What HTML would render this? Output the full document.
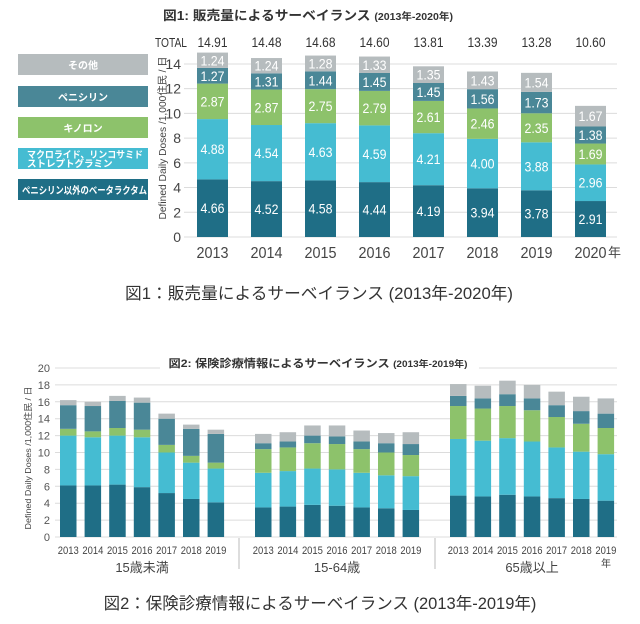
<!DOCTYPE html>
<html><head><meta charset="utf-8">
<style>
html,body{margin:0;padding:0;background:#fff;}
body{width:640px;height:619px;overflow:hidden;font-family:"Liberation Sans","Noto Sans CJK JP",sans-serif;}
svg text{font-family:"Liberation Sans","Noto Sans CJK JP",sans-serif;}
</style></head>
<body>
<svg id="s" width="640" height="619" viewBox="0 0 640 619" xmlns="http://www.w3.org/2000/svg">
<text x="308" y="20" text-anchor="middle" font-size="13" font-weight="bold" fill="#333" textLength="290" lengthAdjust="spacingAndGlyphs">図1: 販売量によるサーベイランス <tspan font-size="10">(2013年-2020年)</tspan></text>
<text x="319" y="299" text-anchor="middle" font-size="16.5" fill="#333" textLength="388" lengthAdjust="spacingAndGlyphs">図1：販売量によるサーベイランス (2013年-2020年)</text>
<text x="318" y="367" text-anchor="middle" font-size="11" font-weight="bold" fill="#333" textLength="299" lengthAdjust="spacingAndGlyphs">図2: 保険診療情報によるサーベイランス <tspan font-size="9">(2013年-2019年)</tspan></text>
<text x="320" y="609" text-anchor="middle" font-size="16.5" fill="#333">図2：保険診療情報によるサーベイランス (2013年-2019年)</text>
<g id="c1"></g>
<g id="c2"></g>
</svg>
<script>
// ---- Chart 1 data ----
const years1 = ["2013","2014","2015","2016","2017","2018","2019","2020"];
const totals1 = ["14.91","14.48","14.68","14.60","13.81","13.39","13.28","10.60"];
const betaLactam = [4.66,4.52,4.58,4.44,4.19,3.94,3.78,2.91];
const macrolide = [4.88,4.54,4.63,4.59,4.21,4.00,3.88,2.96];
const quinolone = [2.87,2.87,2.75,2.79,2.61,2.46,2.35,1.69];
const penicillin = [1.27,1.31,1.44,1.45,1.45,1.56,1.73,1.38];
const others = [1.24,1.24,1.28,1.33,1.35,1.43,1.54,1.67];
const ticks1 = [0,2,4,6,8,10,12,14];
const legendLabels = ["その他","ペニシリン","キノロン","マクロライド、リンコサミド\nストレプトグラミン","ペニシリン以外のベータラクタム"];
// ---- Chart 2 data ----
const years2 = ["2013","2014","2015","2016","2017","2018","2019"];
const groups2 = ["15歳未満","15-64歳","65歳以上"];
const g2Beta = [[6.1,6.1,6.2,5.9,5.2,4.5,4.1],[3.5,3.6,3.8,3.7,3.5,3.4,3.2],[4.9,4.8,5.0,4.8,4.6,4.5,4.3]];
const g2Macro = [[5.9,5.7,5.8,5.9,4.8,4.3,4.0],[4.1,4.2,4.3,4.3,4.1,3.9,4.0],[6.7,6.6,6.7,6.5,6.0,5.6,5.5]];
const g2Quin = [[0.8,0.7,0.9,0.9,0.9,0.8,0.7],[2.8,2.8,3.0,3.0,2.8,2.7,2.5],[3.9,3.8,3.8,3.7,3.6,3.3,3.1]];
const g2Pen = [[2.8,3.0,3.2,3.2,3.1,3.2,3.4],[0.7,0.7,0.9,0.9,0.9,1.1,1.3],[1.2,1.2,1.4,1.4,1.4,1.5,1.7]];
const g2Oth = [[0.6,0.5,0.6,0.6,0.6,0.5,0.5],[1.1,1.1,1.2,1.3,1.3,1.2,1.4],[1.4,1.5,1.6,1.6,1.6,1.7,1.8]];
const ticks2 = [0,2,4,6,8,10,12,14,16,18,20];

const COLORS = ["#1f6e86","#45bcd2","#8dc26b","#4a8797","#b6bcbe"];
const NS="http://www.w3.org/2000/svg";
function mk(tag,attrs,parent,txt){const e=document.createElementNS(NS,tag);for(const k in attrs)e.setAttribute(k,attrs[k]);if(txt!==undefined)e.textContent=txt;parent.appendChild(e);return e;}

// ---- Chart 1 ----
(function(){
const g=document.getElementById('c1');
const y0=237, ppu=12.36, xStart=197, step=54, bw=31;
const y=v=>y0-v*ppu, x=i=>xStart+i*step;
ticks1.forEach(t=>{
  const l=mk('line',{x1:184,x2:617,y1:y(t),y2:y(t),stroke:'#dcdcdc','stroke-width':1},g);
  
  const tx=mk('text',{x:181,y:y(t)+5,'text-anchor':'end','font-size':14,fill:'#444'},g,String(t));
  
});
const yt=mk('text',{transform:'translate(166,138) rotate(-90)','text-anchor':'middle','font-size':10,fill:'#444',textLength:163,lengthAdjust:'spacingAndGlyphs'},g,'Defined Daily Doses /1,000住民 / 日');

const tl=mk('text',{x:155,y:47,'font-size':13,fill:'#333',textLength:32,lengthAdjust:'spacingAndGlyphs'},g,'TOTAL');

const series=[betaLactam,macrolide,quinolone,penicillin,others];
years1.forEach((yr,i)=>{
  let acc=0;
  series.forEach((s,k)=>{
    const v=s[i];
    const r=mk('rect',{x:x(i),y:y(acc+v),width:bw,height:v*ppu,fill:COLORS[k]},g);
    
    const lt=mk('text',{x:x(i)+bw/2,y:y(acc+v/2)+5,'text-anchor':'middle','font-size':14,fill:'#fff',textLength:24,lengthAdjust:'spacingAndGlyphs'},g,v.toFixed(2));
    
    acc+=v;
  });
  const t=mk('text',{x:x(i)+bw/2,y:47,'text-anchor':'middle','font-size':14,fill:'#333',textLength:30,lengthAdjust:'spacingAndGlyphs'},g,totals1[i]);
  
  const xl=mk('text',{x:x(i)+bw/2,y:258,'text-anchor':'middle','font-size':16,fill:'#444',textLength:32,lengthAdjust:'spacingAndGlyphs'},g,yr);
  
});
const nen=mk('text',{x:608,y:257,'font-size':13,fill:'#444'},g,'年');

// legend
const lc=[COLORS[4],COLORS[3],COLORS[2],COLORS[1],COLORS[0]];
const ly=[54,86,117,148,179];
legendLabels.forEach((lab,i)=>{
  const r=mk('rect',{x:18,y:ly[i],width:130,height:21,fill:lc[i]},g);
  
  const lines=lab.split('\n');
  lines.forEach((ln,j)=>{
    const a={x:83,y:ly[i]+(lines.length>1?10+j*9:15),'text-anchor':'middle','font-size':lines.length>1?9.5:10,'font-weight':'bold',fill:'#fff'};
    if(lines.length>1){a.x=27;a['text-anchor']='start';}
    if(ln.length>12){a.textLength=ln.length>14?125:116;a.lengthAdjust='spacingAndGlyphs';a['text-anchor']='start';a.x=ln.length>14?22:27;}
    const t=mk('text',a,g,ln);
    
  });
});
})();

// ---- Chart 2 ----
(function(){
const g=document.getElementById('c2');
const y0=537, ppu=8.45, bw=16.5, step=24.6;
const gx=[60,255,450];
const y=v=>y0-v*ppu;
ticks2.forEach(t=>{
  if(t===20){
    [[55,160],[479,617]].forEach(([a,b])=>{const l=mk('line',{x1:a,x2:b,y1:y(t),y2:y(t),stroke:'#dcdcdc'},g);});
  } else {
    const l=mk('line',{x1:55,x2:617,y1:y(t),y2:y(t),stroke:'#dcdcdc'},g);
    
  }
  const tx=mk('text',{x:50,y:y(t)+4,'text-anchor':'end','font-size':11,fill:'#555'},g,String(t));
  
});
const yt=mk('text',{transform:'translate(31,458) rotate(-90)','text-anchor':'middle','font-size':8.5,fill:'#444',textLength:143,lengthAdjust:'spacingAndGlyphs'},g,'Defined Daily Doses /1,000住民 / 日');

const series=[g2Beta,g2Macro,g2Quin,g2Pen,g2Oth];
groups2.forEach((gn,gi)=>{
  years2.forEach((yr,i)=>{
    const bx=gx[gi]+i*step;
    let acc=0;
    series.forEach((s,k)=>{
      const v=s[gi][i];
      const r=mk('rect',{x:bx,y:y(acc+v),width:bw,height:v*ppu,fill:COLORS[k]},g);
      
      acc+=v;
    });
    const xl=mk('text',{x:bx+bw/2,y:554,'text-anchor':'middle','font-size':11,fill:'#444',textLength:21,lengthAdjust:'spacingAndGlyphs'},g,yr);
    
  });
  const gl=mk('text',{x:gx[gi]+3*step+bw/2,y:572,'text-anchor':'middle','font-size':13,fill:'#444'},g,gn);
  
});
[239,435].forEach(sx=>{const l=mk('line',{x1:sx,x2:sx,y1:538,y2:569,stroke:'#bbb'},g);});
const nen=mk('text',{x:601,y:567,'font-size':10,fill:'#444'},g,'年');

})();
</script>
</body></html>
